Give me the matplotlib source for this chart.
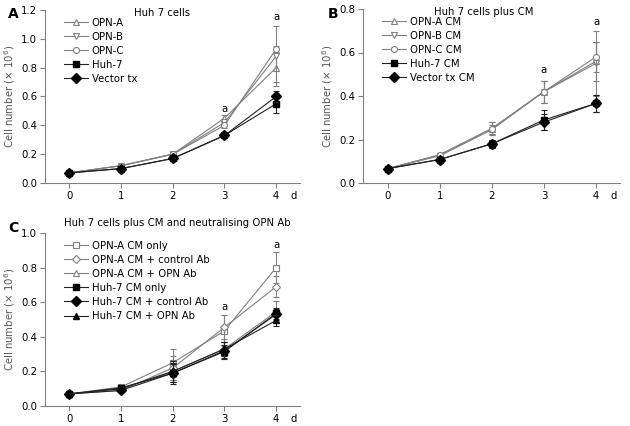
"""Cell growth curves for Huh 7 cells (three panels)"""
from matplotlib import pyplot as plt

days = [0, 1, 2, 3, 4]

# panel A: Huh 7 cells
a_opn_a = [0.07, 0.12, 0.20, 0.45, 0.80]
a_opn_b = [0.07, 0.12, 0.20, 0.42, 0.88]
a_opn_c = [0.07, 0.12, 0.20, 0.40, 0.93]
a_huh7 = [0.07, 0.10, 0.17, 0.33, 0.55]
a_vector = [0.07, 0.10, 0.17, 0.33, 0.60]
a_opn_a_err = [0.005, 0.01, 0.01, 0.02, 0.10]
a_opn_b_err = [0.005, 0.01, 0.01, 0.02, 0.21]
a_opn_c_err = [0.005, 0.01, 0.01, 0.02, 0.02]
a_huh7_err = [0.005, 0.01, 0.01, 0.01, 0.065]
a_vector_err = [0.005, 0.01, 0.01, 0.01, 0.035]

# panel B: Huh 7 cells plus CM
b_opn_a = [0.066, 0.128, 0.25, 0.42, 0.56]
b_opn_b = [0.066, 0.125, 0.245, 0.42, 0.55]
b_opn_c = [0.066, 0.13, 0.25, 0.42, 0.58]
b_huh7 = [0.066, 0.108, 0.18, 0.29, 0.366]
b_vector = [0.066, 0.108, 0.18, 0.28, 0.366]
b_opn_a_err = [0.005, 0.01, 0.03, 0.05, 0.09]
b_opn_b_err = [0.005, 0.01, 0.02, 0.05, 0.15]
b_opn_c_err = [0.005, 0.01, 0.03, 0.05, 0.07]
b_huh7_err = [0.005, 0.01, 0.02, 0.045, 0.04]
b_vector_err = [0.005, 0.01, 0.02, 0.035, 0.04]

# panel C: plus CM and neutralising OPN Ab
c_opna_only = [0.07, 0.11, 0.25, 0.435, 0.80]
c_opna_ctrl = [0.07, 0.09, 0.22, 0.455, 0.69]
c_opna_opn = [0.07, 0.10, 0.20, 0.33, 0.545]
c_huh_only = [0.07, 0.105, 0.19, 0.315, 0.535]
c_huh_ctrl = [0.07, 0.09, 0.19, 0.32, 0.53]
c_huh_opn = [0.07, 0.10, 0.20, 0.33, 0.495]
c_opna_only_err = [0.005, 0.01, 0.08, 0.09, 0.09]
c_opna_ctrl_err = [0.005, 0.01, 0.07, 0.07, 0.06]
c_opna_opn_err = [0.005, 0.01, 0.05, 0.04, 0.06]
c_huh_only_err = [0.005, 0.01, 0.05, 0.04, 0.03]
c_huh_ctrl_err = [0.005, 0.01, 0.06, 0.05, 0.03]
c_huh_opn_err = [0.005, 0.01, 0.06, 0.04, 0.03]

GRAY = '#808080'
plt.rcParams['font.family'] = 'DejaVu Sans'
plt.rcParams['font.size'] = 7.3


def open_style(marker):
    return dict(color=GRAY, marker=marker, mfc='white', mec=GRAY, ms=4.3, mew=0.8)


def filled_style(marker, ms=4.8):
    return dict(color='#222222', marker=marker, mfc='black', mec='black', ms=ms)


def panel(ax, series, ymax, yticks, title, title_x, title_y, letter, letter_xy, a_marks):
    for label, vals, errs, style in series:
        ax.errorbar(days, vals, yerr=errs, fmt='none', ecolor=style['color'],
                    elinewidth=0.8, capsize=2.5, capthick=0.8)
        ax.plot(days, vals, label=label, lw=0.8, **style)
    ax.set_xlim(-0.47, 4.46)
    ax.set_ylim(0, ymax)
    ax.set_xticks(days)
    ax.set_yticks(yticks)
    ax.set_yticklabels(['%.1f' % t for t in yticks])
    for s in ('top', 'right'):
        ax.spines[s].set_visible(False)
    for s in ('left', 'bottom'):
        ax.spines[s].set_color(GRAY)
        ax.spines[s].set_linewidth(0.8)
    ax.tick_params(direction='out', length=3.5, width=0.8, color=GRAY, pad=2)
    ax.set_ylabel('Cell number ($\\times$ 10$^6$)', color='#555555', labelpad=3)
    ax.annotate('d', xy=(4.33, 0), xycoords=('data', 'axes fraction'),
                xytext=(0, -5.5), textcoords='offset points', ha='center', va='top')
    ax.text(title_x, title_y, title, transform=ax.transAxes, ha='center', va='center')
    ax.text(letter_xy[0], letter_xy[1], letter, transform=ax.figure.transFigure,
            fontsize=10, fontweight='bold', ha='left', va='center')
    for x, y in a_marks:
        ax.text(x, y, 'a', ha='center', va='center')
    ax.legend(loc='upper left', bbox_to_anchor=(0.05, 0.99), frameon=False,
              handlelength=2.4, handletextpad=0.35, labelspacing=0.4,
              borderaxespad=0.2)


fig = plt.figure(figsize=(6.3, 4.26), dpi=100)
ax_a = fig.add_axes([45 / 630, 1 - 183 / 426, 255 / 630, 173 / 426])
ax_b = fig.add_axes([363 / 630, 1 - 183 / 426, 257 / 630, 174 / 426])
ax_c = fig.add_axes([45 / 630, 1 - 406 / 426, 255 / 630, 173 / 426])

panel(ax_a, [
    ('OPN-A', a_opn_a, a_opn_a_err, open_style('^')),
    ('OPN-B', a_opn_b, a_opn_b_err, open_style('v')),
    ('OPN-C', a_opn_c, a_opn_c_err, open_style('o')),
    ('Huh-7', a_huh7, a_huh7_err, filled_style('s')),
    ('Vector tx', a_vector, a_vector_err, filled_style('D')),
], 1.2, [0.0, 0.2, 0.4, 0.6, 0.8, 1.0, 1.2], 'Huh 7 cells', 0.46, 0.985, 'A',
    (8 / 630, 1 - 14 / 426), [(3, 0.51), (4, 1.15)])

panel(ax_b, [
    ('OPN-A CM', b_opn_a, b_opn_a_err, open_style('^')),
    ('OPN-B CM', b_opn_b, b_opn_b_err, open_style('v')),
    ('OPN-C CM', b_opn_c, b_opn_c_err, open_style('o')),
    ('Huh-7 CM', b_huh7, b_huh7_err, filled_style('s')),
    ('Vector tx CM', b_vector, b_vector_err, filled_style('D')),
], 0.8, [0.0, 0.2, 0.4, 0.6, 0.8], 'Huh 7 cells plus CM', 0.47, 0.985, 'B',
    (328 / 630, 1 - 14 / 426), [(3, 0.52), (4, 0.74)])

panel(ax_c, [
    ('OPN-A CM only', c_opna_only, c_opna_only_err, open_style('s')),
    ('OPN-A CM + control Ab', c_opna_ctrl, c_opna_ctrl_err, open_style('D')),
    ('OPN-A CM + OPN Ab', c_opna_opn, c_opna_opn_err, open_style('^')),
    ('Huh-7 CM only', c_huh_only, c_huh_only_err, filled_style('s')),
    ('Huh-7 CM + control Ab', c_huh_ctrl, c_huh_ctrl_err, filled_style('D')),
    ('Huh-7 CM + OPN Ab', c_huh_opn, c_huh_opn_err, filled_style('^')),
], 1.0, [0.0, 0.2, 0.4, 0.6, 0.8, 1.0], 'Huh 7 cells plus CM and neutralising OPN Ab',
    0.52, 1.06, 'C', (8 / 630, 1 - 228 / 426), [(3, 0.57), (4, 0.93)])

fig.savefig('out.png', dpi=100)
